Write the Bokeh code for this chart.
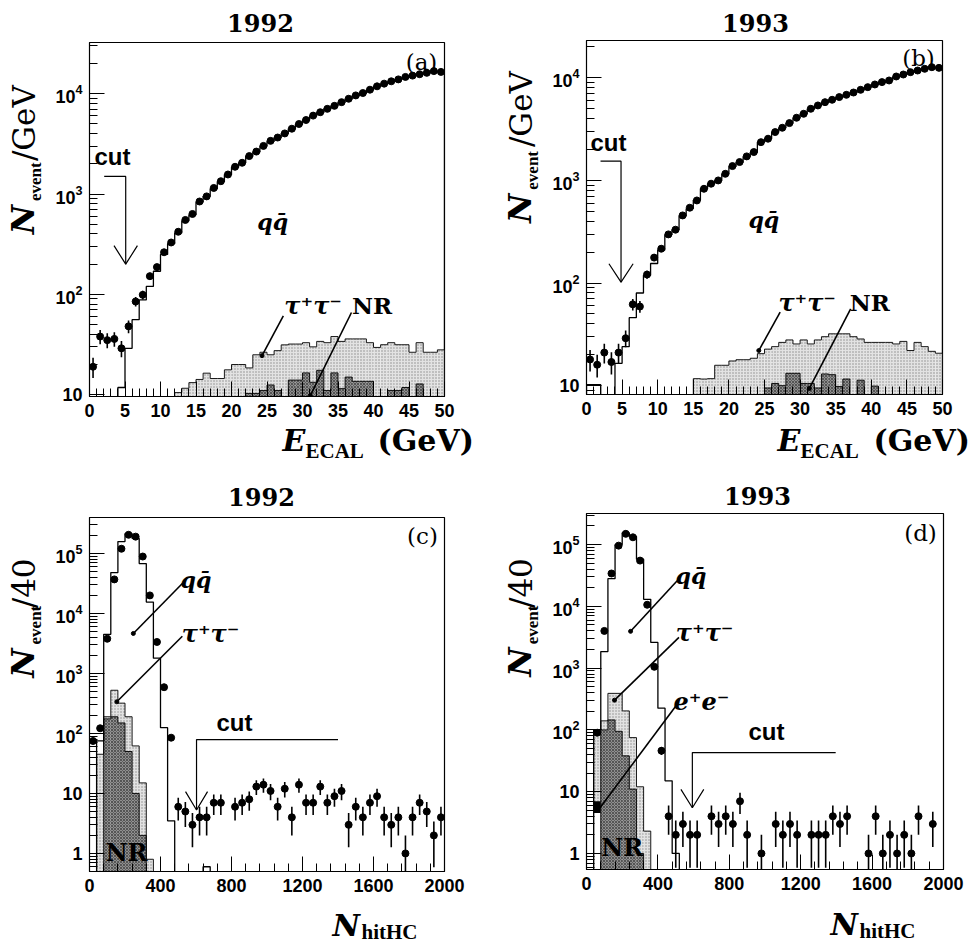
import numpy as np
from bokeh.plotting import figure
from bokeh.layouts import column, row
from bokeh.models import Label, SingleIntervalTicker, LogTicker, LogTickFormatter
from bokeh.embed import file_html
from bokeh.resources import INLINE

# ----------------------------- data -----------------------------
# E_ECAL: 1 GeV bins from 0 to 50 GeV
ecal_edges = list(range(0, 51))
ecal_centers = [i + 0.5 for i in range(50)]

data_1992_ecal = [19, 38, 35, 36, 29, 48, 85, 99, 152, 187,
                  263, 329, 421, 552, 633, 843, 948, 1150, 1343, 1567,
                  1870, 2050, 2390, 2650, 3020, 3390, 3660, 4020, 4480, 4990,
                  5470, 6050, 6540, 7070, 7570, 8240, 8910, 9620, 10160, 10970,
                  11850, 12600, 13300, 13900, 14700, 15150, 15650, 16150, 16800, 16500]
mc_1992_ecal = [0, 0, 0, 0, 11.8, 29, 56, 88, 120, 170,
                250, 320, 410, 540, 620, 830, 950, 1130, 1330, 1560,
                1850, 2050, 2380, 2620, 3000, 3350, 3650, 4000, 4450, 4950,
                5450, 6000, 6500, 7050, 7550, 8200, 8850, 9550, 10100, 10900,
                11800, 12500, 13200, 13900, 14600, 15100, 15600, 16100, 16700, 16600]
tau_1992_ecal = [0, 0, 0, 0, 0, 0, 0, 0, 0, 0,
                 0, 0, 10.5, 11.6, 13.2, 14.2, 16.4, 14.5, 14.5, 17.7,
                 20, 20, 18.5, 25, 26.5, 25, 27.5, 31.4, 32, 32,
                 33, 30, 34, 33, 38, 34, 36, 36, 36, 33,
                 29.6, 31.5, 33, 31.5, 31.5, 26.5, 33, 26.5, 26.5, 28]
nr_1992_ecal = [0, 0, 0, 0, 0, 0, 0, 0, 0, 0,
                0, 0, 0, 0, 0, 0, 0, 0, 0, 0,
                0, 0, 10.3, 10.3, 11, 12.5, 11, 0, 14, 14,
                16.5, 13.3, 17.5, 11, 16.5, 11.5, 15, 13.6, 13.6, 13.6,
                0, 0, 11, 11, 11.8, 0, 12.8, 0, 0, 0]

data_1993_ecal = [18, 16, 21, 17, 21, 29, 62, 59, 121, 177,
                  216, 298, 331, 456, 542, 638, 829, 929, 1000, 1160,
                  1380, 1510, 1715, 1890, 2360, 2550, 2960, 3260, 3620, 4080,
                  4460, 4990, 5380, 5790, 6110, 6490, 6830, 7190, 7640, 8110,
                  8610, 9080, 9420, 10300, 10770, 11350, 11780, 12240, 12700, 12500]
mc_1993_ecal = [10.2, 10.2, 0, 0, 16.5, 24, 46, 80, 119, 155,
                210, 295, 330, 450, 530, 640, 830, 930, 1000, 1150,
                1370, 1500, 1700, 1880, 2350, 2550, 2950, 3250, 3600, 4050,
                4450, 4950, 5350, 5750, 6100, 6450, 6800, 7200, 7600, 8100,
                8600, 9050, 9400, 10200, 10700, 11300, 11700, 12200, 12600, 12500]
tau_1993_ecal = [0, 0, 0, 0, 0, 0, 0, 0, 0, 0,
                 0, 0, 0, 0, 0, 11.7, 11.6, 11.7, 15.8, 15.8,
                 17.4, 17.9, 17.9, 18.5, 20.5, 22.7, 24, 26.4, 27.9, 25.5,
                 27.9, 25.5, 27.9, 30, 32, 32, 32, 30, 28.5, 26.4,
                 26.4, 26.4, 26.4, 25.5, 27, 22, 26.4, 24, 21.6, 20.7]
nr_1993_ecal = [0, 0, 0, 0, 0, 0, 0, 0, 0, 0,
                0, 0, 0, 0, 0, 0, 0, 0, 0, 0,
                0, 0, 0, 0, 0, 9.5, 10.5, 10, 13.2, 13.2,
                10.5, 10.5, 9.5, 13, 12.8, 9.8, 11.6, 0, 11.3, 0,
                9.9, 0, 0, 0, 0, 0, 0, 0, 0, 0]

# N_hitHC: bins of 40 hits
hit_edges = [0, 40, 80, 120, 160, 200, 240, 280, 320, 360, 400, 440, 480, 520, 560, 600, 640, 680, 720]

hit_x_1992 = [20, 60, 100, 140, 180, 220, 260, 300, 340, 380,
              420, 460, 500, 540, 580, 620, 660, 700, 740,
              820, 860, 900, 940, 980, 1020, 1060, 1100, 1140, 1180,
              1220, 1260, 1300, 1340, 1380, 1420, 1460, 1500, 1540, 1580,
              1620, 1660, 1700, 1740, 1780, 1820, 1860, 1900, 1940, 1980]
hit_y_1992 = [75, 122, 3790, 37000, 120000, 205000, 191000, 89000, 20000, 3350,
              590, 85, 6, 5, 3, 4, 4, 7, 7,
              6, 7, 8, 13, 14, 11, 6, 12, 4, 14,
              7, 7, 13, 7, 9, 11, 3, 6, 4, 7,
              9, 4, 3, 4, 1, 4, 7, 5, 2, 4]
mc_1992_hit = [0, 75, 4500, 48000, 158000, 215000, 178000, 68000, 15500, 1800,
               125, 3.5, 0, 0, 0, 0, 0.6, 0]
tau_1992_hit = [0, 45, 190, 525, 320, 190, 62, 15, 0.8, 0,
                0, 0, 0, 0, 0, 0, 0, 0]
nr_1992_hit = [0, 0, 175, 190, 150, 50, 10, 2, 0, 0,
               0, 0, 0, 0, 0, 0, 0, 0]

hit_x_1993 = [60, 100, 140, 180, 220, 260, 300, 340, 380, 420,
              460, 500, 540, 580, 620, 700, 740, 780, 820, 860,
              900, 980, 1060, 1100, 1140, 1180, 1260, 1300, 1340, 1380,
              1420, 1460, 1580, 1620, 1660, 1700, 1740, 1780, 1820, 1860,
              1940]
hit_y_1993 = [90, 4000, 34000, 96000, 149000, 131000, 55000, 10600, 1050, 46,
              4, 2, 3, 2, 2, 4, 3, 4, 3, 7,
              2, 1, 3, 2, 3, 2, 2, 2, 2, 4,
              3, 4, 1, 4, 1, 2, 1, 2, 1, 4,
              3]
mc_1993_hit = [0, 100, 1850, 28000, 100000, 155000, 135000, 58000, 13000, 2600,
               225, 15, 1.0, 0, 0, 0, 0, 0]
tau_1993_hit = [0, 100, 140, 390, 390, 203, 75, 12, 2.3, 0,
                0, 0, 0, 0, 0, 0, 0, 0]
nr_1993_hit = [0, 0, 100, 145, 95, 38, 11, 1.0, 0, 0,
               0, 0, 0, 0, 0, 0, 0, 0]
other_1993_hit = [0, 4.5, 0, 0, 0, 0, 0, 0, 0, 0, 0, 0, 0, 0, 0, 0, 0, 0]
ee_1993_hit = [0, 7.0, 0, 0, 0, 0, 0, 0, 0, 0, 0, 0, 0, 0, 0, 0, 0, 0]

# ----------------------------- helpers -----------------------------
FLOOR = 1e-3
SERIF = "DejaVu Serif"
SERIF2 = "Liberation Serif"
SANS = "Liberation Sans"
LIGHT = dict(fill_color="#e2e2e2", hatch_pattern="dot", hatch_color="#888888",
             hatch_scale=3, hatch_weight=0.7)
DARK = dict(fill_color="#8f8f8f", hatch_pattern="diagonal_cross", hatch_color="#3c3c3c",
            hatch_scale=3, hatch_weight=0.7)


def text_fig(w, h, x0, y0):
    """A bare figure whose data coordinates equal the panel's pixel coordinates."""
    t = figure(width=w, height=h, x_range=(x0, x0 + w), y_range=(y0 + h, y0),
               min_border=0, toolbar_location=None, tools="", output_backend="svg",
               x_axis_location=None, y_axis_location=None,
               background_fill_color="white", border_fill_color="white")
    t.outline_line_color = None
    t.xgrid.visible = False
    t.ygrid.visible = False
    return t


def make_main(x_end, y_lo, y_hi, fw, fh, bl, br, bb, interval):
    p = figure(width=bl + fw + br, height=2 + fh + bb, frame_width=fw, frame_height=fh,
               x_range=(0, x_end), y_range=(y_lo, y_hi), y_axis_type="log",
               min_border_left=bl, min_border_right=br, min_border_top=2, min_border_bottom=bb,
               toolbar_location=None, tools="", output_backend="svg",
               background_fill_color="white", border_fill_color="white")
    p.xgrid.visible = False
    p.ygrid.visible = False
    p.outline_line_color = "black"
    p.outline_line_width = 1.2
    p.xaxis.ticker = SingleIntervalTicker(interval=interval, num_minor_ticks=5)
    p.yaxis.ticker = LogTicker(num_minor_ticks=10)
    p.yaxis.formatter = LogTickFormatter(min_exponent=2)
    for ax in list(p.xaxis) + list(p.yaxis):
        ax.major_tick_in = 15
        ax.major_tick_out = 0
        ax.minor_tick_in = 8
        ax.minor_tick_out = 0
        ax.axis_line_color = "black"
        ax.major_tick_line_color = "black"
        ax.minor_tick_line_color = "black"
        ax.major_label_text_font = SANS
        ax.major_label_text_font_style = "bold"
        ax.major_label_text_font_size = "18px"
        ax.major_label_text_color = "black"
        ax.major_label_standoff = 7
    return p


def hist_fill(p, edges, vals, bottoms=None, **kw):
    L, R, T, B = [], [], [], []
    for i, v in enumerate(vals):
        if v > 0:
            L.append(edges[i]); R.append(edges[i + 1]); T.append(v)
            B.append(FLOOR if bottoms is None else max(bottoms[i], FLOOR))
    p.quad(left=L, right=R, top=T, bottom=B, line_color=None, **kw)


def hist_step(p, edges, vals, width=1.0):
    v = [x if x > 0 else FLOOR for x in vals]
    xs = [edges[0]] + list(edges[:len(vals) + 1])
    ys = [FLOOR] + v + [FLOOR]
    p.step(xs, ys, mode="after", line_color="black", line_width=width)


def points(p, xs, ys, size=7):
    xs = np.array(xs, dtype=float)
    ys = np.array(ys, dtype=float)
    err = np.sqrt(ys)
    lo = np.maximum(ys - err, FLOOR)
    hi = ys + err
    p.segment(xs, lo, xs, hi, line_color="black", line_width=1.6)
    p.scatter(xs, ys, size=size, color="black")


def lab(p, text, x, y, size, font=SERIF, style="bold", align="left",
        baseline="middle", angle=0.0, units="data"):
    p.add_layout(Label(x=x, y=y, x_units=units, y_units=units, text=text,
                       text_font=font, text_font_style=style, text_font_size=f"{size}px",
                       text_align=align, text_baseline=baseline, angle=angle,
                       text_color="black"))


def pointer(p, x0, y0, x1, y1, dot=True):
    p.line([x0, x1], [y0, y1], line_color="black", line_width=1.6)
    if dot:
        p.scatter([x1], [y1], size=4, color="black")


def cut_arrow(p, xs, ytop, xtip, ytip, dx, fac):
    p.line([xs, xtip, xtip], [ytop, ytop, ytip], line_color="black", line_width=1.2)
    p.line([xtip - dx, xtip, xtip + dx], [ytip * fac, ytip, ytip * fac],
           line_color="black", line_width=1.2)


def build_panel(W, H, bl, br, bt, fw, fh, Lw, x_end, y_lo, y_hi, interval):
    bb = 26
    mh = 2 + fh + bb
    title = text_fig(W, bt - 2, 0, 0)
    ylab = text_fig(Lw, mh, 0, bt - 2)
    main = make_main(x_end, y_lo, y_hi, fw, fh, bl - Lw, br, bb, interval)
    xh = H - (bt - 2) - mh
    xlab = text_fig(W, xh, 0, H - xh)
    lay = column(title, row(ylab, main, spacing=0), xlab, spacing=0)
    # offset of the main canvas inside the panel (for canvas-unit labels)
    return title, ylab, main, xlab, lay, (Lw, bt - 2)


def main_lab(p, off, text, x, y, size, **kw):
    lab(p, text, x - off[0], y - off[1], size, units="canvas", **kw)


def ylabel(t, xc, yN, yev, yrest, rest):
    # xc: centre line of the capital letters (text is rotated to read upwards)
    lab(t, "N", xc, yN, 32, style="bold italic", angle=np.pi / 2)
    lab(t, "event", xc + 13, yev, 17, font=SERIF2, angle=np.pi / 2)
    lab(t, rest, xc + 1, yrest, 31, style="normal", angle=np.pi / 2)


QQ = "q\u0071\u0304"
TT = "\u03c4\u207a\u03c4\u207b"
EE = "e\u207ae\u207b"

# ----------------------------- panel (a) -----------------------------
ta, ya, pa, xa, lay_a, oa = build_panel(488, 470, 89, 44, 42, 355, 354, 50, 50, 9.6, 32400, 5)
hist_fill(pa, ecal_edges, tau_1992_ecal, **LIGHT)
hist_fill(pa, ecal_edges, nr_1992_ecal, **DARK)
hist_step(pa, ecal_edges, tau_1992_ecal, 0.9)
hist_step(pa, ecal_edges, nr_1992_ecal, 0.9)
hist_step(pa, ecal_edges, mc_1992_ecal, 1.3)
points(pa, ecal_centers, data_1992_ecal)
cut_arrow(pa, 2.07, 1500, 5.1, 200, 1.65, 10 ** 0.185)
main_lab(pa, oa, "cut", 112, 156, 24, font=SANS, align="center")
lab(pa, QQ, 25.8, 530, 22, style="bold italic", align="center")
lab(pa, TT, 31.5, 78, 24, style="bold italic", align="center")
lab(pa, "NR", 39.8, 77, 23, align="center")
pointer(pa, 27.3, 61, 24.3, 24.5)
pointer(pa, 36.9, 66, 31.1, 9.8)
main_lab(pa, oa, "(a)", 421, 61, 23, style="normal", align="center")
lab(ta, "1992", 260, 22, 24, align="center")
ylabel(ya, 22, 247, 211, 168, "/GeV")
lab(xa, "E", 282, 440, 30, style="bold italic")
lab(xa, "ECAL", 305, 450, 21, font=SERIF2)
lab(xa, "(GeV)", 377, 440, 30)

# ----------------------------- panel (b) -----------------------------
tb, yb, pb, xb, lay_b, ob = build_panel(489, 470, 98, 35, 40, 356, 354, 60, 50, 8.2, 23100, 5)
hist_fill(pb, ecal_edges, tau_1993_ecal, **LIGHT)
hist_fill(pb, ecal_edges, nr_1993_ecal, **DARK)
hist_step(pb, ecal_edges, tau_1993_ecal, 0.9)
hist_step(pb, ecal_edges, nr_1993_ecal, 0.9)
hist_step(pb, ecal_edges, mc_1993_ecal, 1.3)
points(pb, ecal_centers, data_1993_ecal)
cut_arrow(pb, 1.97, 1540, 4.85, 102, 1.7, 10 ** 0.179)
main_lab(pb, ob, "cut", 120, 142, 24, font=SANS, align="center")
lab(pb, QQ, 24.9, 407, 22, style="bold italic", align="center")
lab(pb, TT, 31.0, 65, 24, style="bold italic", align="center")
lab(pb, "NR", 39.8, 65, 23, align="center")
pointer(pb, 27.2, 52, 24.2, 22)
pointer(pb, 37.1, 56, 31.3, 9.4)
main_lab(pb, ob, "(b)", 430, 57, 23, style="normal", align="center")
lab(tb, "1993", 267, 22, 24, align="center")
ylabel(yb, 31, 235, 199, 153, "/GeV")
lab(xb, "E", 289, 440, 30, style="bold italic")
lab(xb, "ECAL", 312, 450, 21, font=SERIF2)
lab(xb, "(GeV)", 385, 440, 30)

# ----------------------------- panel (c) -----------------------------
tc, yc, pc, xc, lay_c, oc = build_panel(488, 474, 89, 44, 47, 355, 354, 50, 2000, 0.5, 398000, 400)
hist_fill(pc, hit_edges, tau_1992_hit, **LIGHT)
hist_fill(pc, hit_edges, nr_1992_hit, **DARK)
hist_step(pc, hit_edges, tau_1992_hit, 0.9)
hist_step(pc, hit_edges, nr_1992_hit, 0.9)
hist_step(pc, hit_edges, mc_1992_hit, 1.3)
points(pc, hit_x_1992, hit_y_1992)
cut_arrow(pc, 1400, 79, 603, 5.3, 62, 10 ** 0.306)
main_lab(pc, oc, "cut", 234, 252, 24, font=SANS, align="center")
lab(pc, QQ, 600, 36000, 22, style="bold italic", align="center")
lab(pc, TT, 682, 4600, 24, style="bold italic", align="center")
lab(pc, "NR", 209, 1.05, 24, align="center")
pointer(pc, 523, 31600, 247, 4640)
pointer(pc, 523, 4170, 154, 337)
main_lab(pc, oc, "(c)", 422, 65, 23, style="normal", align="center")
lab(tc, "1992", 261, 26, 24, align="center")
ylabel(yc, 22, 218, 182, 143, "/40")
lab(xc, "N", 332, 455, 30, style="bold italic")
lab(xc, "hitHC", 361, 461, 21, font=SERIF2)

# ----------------------------- panel (d) -----------------------------
td, yd, pd_, xd, lay_d, od = build_panel(489, 474, 98, 34, 43, 357, 356, 60, 2000, 0.55, 318000, 400)
hist_fill(pd_, hit_edges, tau_1993_hit, **LIGHT)
hist_fill(pd_, hit_edges, other_1993_hit, fill_color="white")
hist_fill(pd_, hit_edges, ee_1993_hit, bottoms=other_1993_hit, fill_color="black")
hist_fill(pd_, hit_edges, nr_1993_hit, **DARK)
hist_step(pd_, hit_edges, tau_1993_hit, 0.9)
hist_step(pd_, hit_edges, nr_1993_hit, 0.9)
hist_step(pd_, hit_edges, mc_1993_hit, 1.3)
points(pd_, hit_x_1993, hit_y_1993)
cut_arrow(pd_, 1396, 43, 593, 5.5, 64, 10 ** 0.297)
main_lab(pd_, od, "cut", 278, 261, 24, font=SANS, align="center")
lab(pd_, QQ, 585, 31000, 22, style="bold italic", align="center")
lab(pd_, TT, 662, 3800, 24, style="bold italic", align="center")
lab(pd_, EE, 644, 290, 24, style="bold italic", align="center")
lab(pd_, "NR", 200, 1.25, 24, align="center")
pointer(pd_, 508, 26000, 247, 3940)
pointer(pd_, 518, 3140, 157, 303)
pointer(pd_, 508, 261, 56, 4.6, dot=False)
main_lab(pd_, od, "(d)", 432, 62, 23, style="normal", align="center")
lab(td, "1993", 269, 25, 24, align="center")
ylabel(yd, 31, 217, 182, 143, "/40")
lab(xd, "N", 342, 454, 30, style="bold italic")
lab(xd, "hitHC", 371, 460, 21, font=SERIF2)

layout = column(row(lay_a, lay_b, spacing=0), row(lay_c, lay_d, spacing=0), spacing=0)

with open("out.html", "w") as f:
    f.write(file_html(layout, INLINE))
